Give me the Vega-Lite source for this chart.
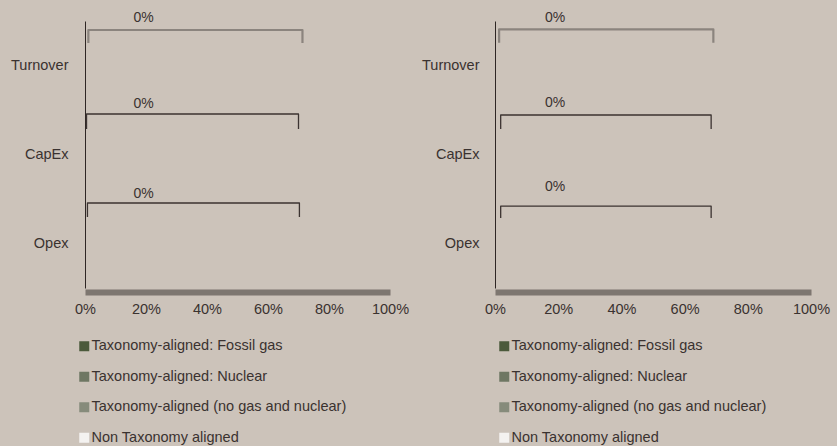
{
  "$schema": "https://vega.github.io/schema/vega-lite/v6.json",
  "background": "#ccc3ba",
  "padding": {"left": 10, "top": 10, "right": 8, "bottom": 4},
  "bounds": "flush",
  "spacing": 105,
  "datasets": {
    "bars": [
      {"panel": 1, "cat": "Turnover", "type": "Taxonomy-aligned: Fossil gas", "value": 0},
      {"panel": 1, "cat": "Turnover", "type": "Taxonomy-aligned: Nuclear", "value": 0},
      {"panel": 1, "cat": "Turnover", "type": "Taxonomy-aligned (no gas and nuclear)", "value": 0},
      {"panel": 1, "cat": "Turnover", "type": "Non Taxonomy aligned", "value": 0},
      {"panel": 1, "cat": "CapEx", "type": "Taxonomy-aligned: Fossil gas", "value": 0},
      {"panel": 1, "cat": "CapEx", "type": "Taxonomy-aligned: Nuclear", "value": 0},
      {"panel": 1, "cat": "CapEx", "type": "Taxonomy-aligned (no gas and nuclear)", "value": 0},
      {"panel": 1, "cat": "CapEx", "type": "Non Taxonomy aligned", "value": 0},
      {"panel": 1, "cat": "Opex", "type": "Taxonomy-aligned: Fossil gas", "value": 0},
      {"panel": 1, "cat": "Opex", "type": "Taxonomy-aligned: Nuclear", "value": 0},
      {"panel": 1, "cat": "Opex", "type": "Taxonomy-aligned (no gas and nuclear)", "value": 0},
      {"panel": 1, "cat": "Opex", "type": "Non Taxonomy aligned", "value": 0},
      {"panel": 2, "cat": "Turnover", "type": "Taxonomy-aligned: Fossil gas", "value": 0},
      {"panel": 2, "cat": "Turnover", "type": "Taxonomy-aligned: Nuclear", "value": 0},
      {"panel": 2, "cat": "Turnover", "type": "Taxonomy-aligned (no gas and nuclear)", "value": 0},
      {"panel": 2, "cat": "Turnover", "type": "Non Taxonomy aligned", "value": 0},
      {"panel": 2, "cat": "CapEx", "type": "Taxonomy-aligned: Fossil gas", "value": 0},
      {"panel": 2, "cat": "CapEx", "type": "Taxonomy-aligned: Nuclear", "value": 0},
      {"panel": 2, "cat": "CapEx", "type": "Taxonomy-aligned (no gas and nuclear)", "value": 0},
      {"panel": 2, "cat": "CapEx", "type": "Non Taxonomy aligned", "value": 0},
      {"panel": 2, "cat": "Opex", "type": "Taxonomy-aligned: Fossil gas", "value": 0},
      {"panel": 2, "cat": "Opex", "type": "Taxonomy-aligned: Nuclear", "value": 0},
      {"panel": 2, "cat": "Opex", "type": "Taxonomy-aligned (no gas and nuclear)", "value": 0},
      {"panel": 2, "cat": "Opex", "type": "Non Taxonomy aligned", "value": 0}
    ],
    "brackets": [
      {"panel": 1, "cat": "Turnover", "ord": 1, "v": 0.011, "u": 0.247},
      {"panel": 1, "cat": "Turnover", "ord": 2, "v": 0.011, "u": 0.101},
      {"panel": 1, "cat": "Turnover", "ord": 3, "v": 0.713, "u": 0.101},
      {"panel": 1, "cat": "Turnover", "ord": 4, "v": 0.713, "u": 0.247},
      {"panel": 1, "cat": "CapEx", "ord": 1, "v": 0.005, "u": 1.213},
      {"panel": 1, "cat": "CapEx", "ord": 2, "v": 0.005, "u": 1.045},
      {"panel": 1, "cat": "CapEx", "ord": 3, "v": 0.700, "u": 1.045},
      {"panel": 1, "cat": "CapEx", "ord": 4, "v": 0.700, "u": 1.213},
      {"panel": 1, "cat": "Opex", "ord": 1, "v": 0.008, "u": 2.202},
      {"panel": 1, "cat": "Opex", "ord": 2, "v": 0.008, "u": 2.045},
      {"panel": 1, "cat": "Opex", "ord": 3, "v": 0.703, "u": 2.045},
      {"panel": 1, "cat": "Opex", "ord": 4, "v": 0.703, "u": 2.202},
      {"panel": 2, "cat": "Turnover", "ord": 1, "v": 0.013, "u": 0.243},
      {"panel": 2, "cat": "Turnover", "ord": 2, "v": 0.013, "u": 0.093},
      {"panel": 2, "cat": "Turnover", "ord": 3, "v": 0.691, "u": 0.093},
      {"panel": 2, "cat": "Turnover", "ord": 4, "v": 0.691, "u": 0.243},
      {"panel": 2, "cat": "CapEx", "ord": 1, "v": 0.018, "u": 1.213},
      {"panel": 2, "cat": "CapEx", "ord": 2, "v": 0.018, "u": 1.056},
      {"panel": 2, "cat": "CapEx", "ord": 3, "v": 0.684, "u": 1.056},
      {"panel": 2, "cat": "CapEx", "ord": 4, "v": 0.684, "u": 1.213},
      {"panel": 2, "cat": "Opex", "ord": 1, "v": 0.018, "u": 2.213},
      {"panel": 2, "cat": "Opex", "ord": 2, "v": 0.018, "u": 2.079},
      {"panel": 2, "cat": "Opex", "ord": 3, "v": 0.684, "u": 2.079},
      {"panel": 2, "cat": "Opex", "ord": 4, "v": 0.684, "u": 2.213}
    ],
    "labels": [
      {"panel": 1, "cat": "Turnover", "v": 0.192, "u": -0.039, "share": 0},
      {"panel": 1, "cat": "CapEx", "v": 0.192, "u": 0.927, "share": 0},
      {"panel": 1, "cat": "Opex", "v": 0.192, "u": 1.949, "share": 0},
      {"panel": 2, "cat": "Turnover", "v": 0.19, "u": -0.034, "share": 0},
      {"panel": 2, "cat": "CapEx", "v": 0.19, "u": 0.921, "share": 0},
      {"panel": 2, "cat": "Opex", "v": 0.19, "u": 1.865, "share": 0}
    ]
  },
  "hconcat": [
    {
      "width": 305,
      "height": 267,
      "layer": [
        {
          "data": {"name": "bars"},
          "transform": [{"filter": "datum.panel == 1"}],
          "mark": {"type": "bar"},
          "encoding": {
            "y": {"field": "cat", "type": "nominal", "sort": ["Turnover", "CapEx", "Opex"], "title": null,
                  "axis": {"ticks": false, "domainColor": "#2e2624", "domainWidth": 1, "labelPadding": 17}},
            "x": {"field": "value", "type": "quantitative", "stack": "zero", "title": null,
                  "scale": {"domain": [0, 1], "nice": false},
                  "axis": {"format": ".0%", "values": [0, 0.2, 0.4, 0.6, 0.8, 1], "ticks": false, "grid": false, "labelFlush": false,
                           "domainColor": "#6f6963", "domainOpacity": 0.85, "domainWidth": 6, "offset": 4, "labelPadding": 10}},
            "color": {"field": "type", "type": "nominal", "title": null,
                      "scale": {"domain": ["Taxonomy-aligned: Fossil gas", "Taxonomy-aligned: Nuclear", "Taxonomy-aligned (no gas and nuclear)", "Non Taxonomy aligned"],
                                "range": ["#4b5a3b", "#6e7763", "#868b7b", "#f4f2f0"]},
                      "legend": {"orient": "none", "legendX": -8, "legendY": 318}}
          }
        },
        {
          "layer": [
            {
              "data": {"name": "brackets"},
              "transform": [{"filter": "datum.panel == 1 && datum.cat == 'Turnover'"}],
              "mark": {"type": "line", "color": "#8b847e", "strokeWidth": 2.2, "strokeJoin": "round"},
              "encoding": {
                "x": {"field": "v", "type": "quantitative"},
                "y": {"field": "u", "type": "quantitative", "scale": {"domain": [0, 3], "reverse": true, "nice": false, "zero": false}, "axis": null},
                "detail": {"field": "cat"},
                "order": {"field": "ord"}
              }
            },
            {
              "data": {"name": "brackets"},
              "transform": [{"filter": "datum.panel == 1 && datum.cat != 'Turnover'"}],
              "mark": {"type": "line", "color": "#3b3331", "strokeWidth": 1.3, "strokeJoin": "round"},
              "encoding": {
                "x": {"field": "v", "type": "quantitative"},
                "y": {"field": "u", "type": "quantitative", "axis": null},
                "detail": {"field": "cat"},
                "order": {"field": "ord"}
              }
            },
            {
              "data": {"name": "labels"},
              "transform": [{"filter": "datum.panel == 1"}],
              "mark": {"type": "text", "fontSize": 14, "color": "#3a3230", "align": "center", "baseline": "middle"},
              "encoding": {
                "x": {"field": "v", "type": "quantitative"},
                "y": {"field": "u", "type": "quantitative", "axis": null},
                "text": {"field": "share", "type": "quantitative", "format": ".0%"}
              }
            },
            {
              "mark": {"type": "rule", "color": "#a39b94", "strokeWidth": 3, "xOffset": 2, "opacity": 0.9},
              "encoding": {
                "x": {"datum": 1, "type": "quantitative"},
                "y": {"datum": 0.09, "type": "quantitative", "axis": null},
                "y2": {"datum": 3}
              }
            }
          ]
        }
      ],
      "resolve": {"scale": {"y": "independent"}}
    },
    {
      "width": 316,
      "height": 267,
      "layer": [
        {
          "data": {"name": "bars"},
          "transform": [{"filter": "datum.panel == 2"}],
          "mark": {"type": "bar"},
          "encoding": {
            "y": {"field": "cat", "type": "nominal", "sort": ["Turnover", "CapEx", "Opex"], "title": null,
                  "axis": {"ticks": false, "domainColor": "#2e2624", "domainWidth": 1, "labelPadding": 16}},
            "x": {"field": "value", "type": "quantitative", "stack": "zero", "title": null,
                  "scale": {"domain": [0, 1], "nice": false},
                  "axis": {"format": ".0%", "values": [0, 0.2, 0.4, 0.6, 0.8, 1], "ticks": false, "grid": false, "labelFlush": false,
                           "domainColor": "#6f6963", "domainOpacity": 0.85, "domainWidth": 6, "offset": 4, "labelPadding": 10}},
            "color": {"field": "type", "type": "nominal", "title": null,
                      "scale": {"domain": ["Taxonomy-aligned: Fossil gas", "Taxonomy-aligned: Nuclear", "Taxonomy-aligned (no gas and nuclear)", "Non Taxonomy aligned"],
                                "range": ["#4b5a3b", "#6e7763", "#868b7b", "#f4f2f0"]},
                      "legend": {"orient": "none", "legendX": 2, "legendY": 318}}
          }
        },
        {
          "layer": [
            {
              "data": {"name": "brackets"},
              "transform": [{"filter": "datum.panel == 2 && datum.cat == 'Turnover'"}],
              "mark": {"type": "line", "color": "#8b847e", "strokeWidth": 2.2, "strokeJoin": "round"},
              "encoding": {
                "x": {"field": "v", "type": "quantitative"},
                "y": {"field": "u", "type": "quantitative", "scale": {"domain": [0, 3], "reverse": true, "nice": false, "zero": false}, "axis": null},
                "detail": {"field": "cat"},
                "order": {"field": "ord"}
              }
            },
            {
              "data": {"name": "brackets"},
              "transform": [{"filter": "datum.panel == 2 && datum.cat != 'Turnover'"}],
              "mark": {"type": "line", "color": "#3b3331", "strokeWidth": 1.3, "strokeJoin": "round"},
              "encoding": {
                "x": {"field": "v", "type": "quantitative"},
                "y": {"field": "u", "type": "quantitative", "axis": null},
                "detail": {"field": "cat"},
                "order": {"field": "ord"}
              }
            },
            {
              "data": {"name": "labels"},
              "transform": [{"filter": "datum.panel == 2"}],
              "mark": {"type": "text", "fontSize": 14, "color": "#3a3230", "align": "center", "baseline": "middle"},
              "encoding": {
                "x": {"field": "v", "type": "quantitative"},
                "y": {"field": "u", "type": "quantitative", "axis": null},
                "text": {"field": "share", "type": "quantitative", "format": ".0%"}
              }
            },
            {
              "mark": {"type": "rule", "color": "#a39b94", "strokeWidth": 3, "xOffset": 2, "opacity": 0.9},
              "encoding": {
                "x": {"datum": 1, "type": "quantitative"},
                "y": {"datum": 0.09, "type": "quantitative", "axis": null},
                "y2": {"datum": 3}
              }
            }
          ]
        }
      ],
      "resolve": {"scale": {"y": "independent"}}
    }
  ],
  "resolve": {"legend": {"color": "independent"}},
  "config": {
    "font": "Liberation Sans",
    "view": {"stroke": null},
    "axis": {"labelFont": "Liberation Sans", "labelFontSize": 14.5, "labelColor": "#3a3230"},
    "legend": {"labelFont": "Liberation Sans", "labelFontSize": 14.5, "labelColor": "#3a3230",
               "symbolType": "square", "symbolSize": 100, "symbolStrokeWidth": 0, "rowPadding": 15.5,
               "padding": 0, "labelOffset": 0, "labelLimit": 400},
    "text": {"font": "Liberation Sans"}
  }
}
